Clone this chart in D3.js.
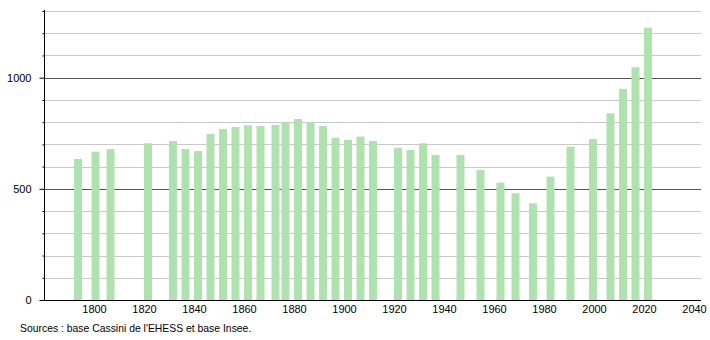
<!DOCTYPE html>
<html>
<head>
<meta charset="utf-8">
<script src="https://cdn.jsdelivr.net/npm/d3@7"></script>
<style>
body { margin: 0; background: #fff; }
text { font-family: "Liberation Sans", Arial, sans-serif; }
</style>
</head>
<body>
<svg width="710" height="340"></svg>
<script>
var years = [1793, 1800, 1806, 1821, 1831, 1836, 1841, 1846, 1851, 1856, 1861, 1866, 1872, 1876,
  1881, 1886, 1891, 1896, 1901, 1906, 1911, 1921, 1926, 1931, 1936, 1946, 1954, 1962, 1968,
  1975, 1982, 1990, 1999, 2006, 2011, 2016, 2021];
var population = [634, 667, 679, 705, 715, 679, 670, 747, 769, 778, 786, 783, 787, 800,
  814, 800, 783, 730, 720, 735, 715, 685, 675, 705, 652, 652, 585, 528, 480,
  435, 555, 690, 724, 840, 950, 1047, 1225];
var xTicks = [1800, 1820, 1840, 1860, 1880, 1900, 1920, 1940, 1960, 1980, 2000, 2020, 2040];
var yMajor = [0, 500, 1000];
var yMinor = d3.range(100, 1400, 100).filter(function(v) { return v % 500 != 0; });
var source = "Sources : base Cassini de l'EHESS et base Insee.";

var svg = d3.select("svg");

var x = d3.scaleLinear().domain([1780, 2042.8]).range([44, 701]);
var y = d3.scaleLinear().domain([0, 1300]).range([300, 11]);

// gridlines
svg.append("g")
  .selectAll("line")
  .data(yMinor)
  .enter().append("line")
  .attr("x1", 44).attr("x2", 701)
  .attr("y1", function(d) { return Math.round(y(d)) + 0.5; })
  .attr("y2", function(d) { return Math.round(y(d)) + 0.5; })
  .attr("stroke", "#c8c8c8");

svg.append("g")
  .selectAll("line")
  .data(yMajor.slice(1))
  .enter().append("line")
  .attr("x1", 44).attr("x2", 701)
  .attr("y1", function(d) { return Math.round(y(d)) + 0.5; })
  .attr("y2", function(d) { return Math.round(y(d)) + 0.5; })
  .attr("stroke", "#555");

// bars
svg.append("g")
  .selectAll("rect")
  .data(years)
  .enter().append("rect")
  .attr("x", function(d) { return x(d + 0.6) - 4; })
  .attr("width", 8)
  .attr("y", function(d, i) { return y(population[i]); })
  .attr("height", function(d, i) { return y(0) - y(population[i]); })
  .attr("fill", "#b0e2b0");

// y axis
var yAxis = d3.axisLeft(y).tickValues(yMinor).tickSize(2).tickFormat("");
svg.append("g")
  .attr("transform", "translate(44.5,0)")
  .call(yAxis)
  .call(function(g) { g.select(".domain").remove(); })
  .selectAll("line").attr("stroke", "#000");

var yAxisMajor = d3.axisLeft(y).tickValues(yMajor).tickSize(5).tickPadding(8).tickFormat(d3.format("d"));
svg.append("g")
  .attr("transform", "translate(44.5,0)")
  .call(yAxisMajor)
  .call(function(g) {
    g.select(".domain").attr("d", "M0," + y(1305) + "V" + y(0)).attr("stroke", "#000");
    g.selectAll("line").attr("stroke", "#000");
    g.selectAll("text").attr("font-size", 11).attr("fill", "#000")
      .attr("font-family", "Liberation Sans, Arial, sans-serif");
  });

// x axis
var xAxis = d3.axisBottom(x).tickValues(xTicks).tickSize(0).tickPadding(5).tickFormat(d3.format("d"));
svg.append("g")
  .attr("transform", "translate(0," + (y(0) + 0.5) + ")")
  .call(xAxis)
  .call(function(g) {
    g.select(".domain").attr("d", "M44,0H701").attr("stroke", "#000");
    g.selectAll("text").attr("font-size", 11).attr("fill", "#000")
      .attr("font-family", "Liberation Sans, Arial, sans-serif");
  });

svg.append("text")
  .attr("x", 20)
  .attr("y", 332)
  .attr("font-size", 10.4)
  .attr("fill", "#000")
  .text(source);
</script>
</body>
</html>
